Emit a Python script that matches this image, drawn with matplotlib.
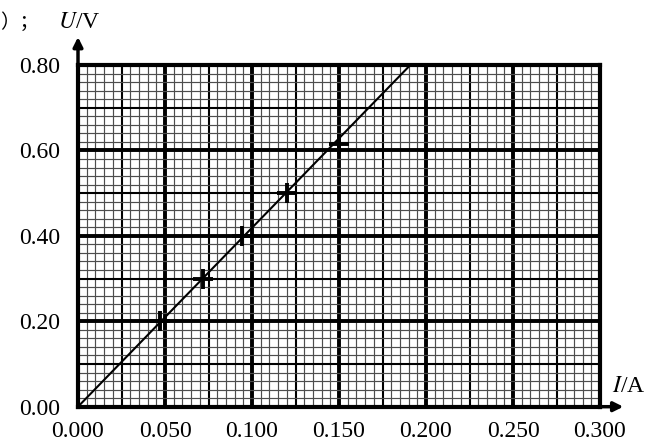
import numpy as np
import matplotlib
matplotlib.use("Agg")
import matplotlib.pyplot as plt

# 测量数据 (I/A, U/V)
current = [0.047, 0.072, 0.094, 0.120, 0.150]
voltage = [0.20, 0.30, 0.40, 0.50, 0.615]
# 拟合直线端点
fit_i = [0.0, 0.191]
fit_u = [0.0, 0.80]
x_ticks = [0.000, 0.050, 0.100, 0.150, 0.200, 0.250, 0.300]
x_labels = ["0.000", "0.050", "0.100", "0.150", "0.200", "0.250", "0.300"]
y_ticks = [0.00, 0.20, 0.40, 0.60, 0.80]
y_labels = ["0.00", "0.20", "0.40", "0.60", "0.80"]

plt.rcParams['font.family'] = ['Liberation Serif', 'DejaVu Serif']
plt.rcParams['mathtext.fontset'] = 'stix'

fig = plt.figure(figsize=(6.45, 4.41), dpi=100)
ax = fig.add_axes([78/645, 34.3/441, 522/645, 341.7/441])
ax.set_xlim(0, 0.3)
ax.set_ylim(0, 0.8)

# 坐标纸网格: 细线 / 中线 / 粗线
xs = np.round(np.arange(0, 0.3001, 0.005), 4)
ys = np.round(np.arange(0, 0.8001, 0.02), 4)
for x in xs:
    k = int(round(x / 0.005))
    if k % 10 == 0:
        lw, c = 2.8, 'black'
    elif k % 5 == 0:
        lw, c = 1.5, 'black'
    else:
        lw, c = 0.85, '#4d4d4d'
    ax.axvline(x, color=c, lw=lw, zorder=1)
for y in ys:
    k = int(round(y / 0.02))
    if k % 10 == 0:
        lw, c = 2.8, 'black'
    elif k % 5 == 0:
        lw, c = 1.5, 'black'
    else:
        lw, c = 0.85, '#4d4d4d'
    ax.axhline(y, color=c, lw=lw, zorder=1)

for s in ax.spines.values():
    s.set_linewidth(3)
    s.set_color('black')

# 拟合线和数据点
ax.plot(fit_i, fit_u, color='black', lw=1.5, zorder=3)
ax.plot(current, voltage, linestyle='none', marker='+', markersize=15,
        markeredgewidth=2.8, color='black', zorder=4)

ax.set_xticks(x_ticks)
ax.set_xticklabels(x_labels)
ax.set_yticks(y_ticks)
ax.set_yticklabels(y_labels)
ax.tick_params(length=0, labelsize=17)
ax.tick_params(axis='x', pad=10)
ax.tick_params(axis='y', pad=13)

# 坐标轴箭头
ax.annotate('', xy=(0, 1.09), xytext=(0, 0.99), xycoords='axes fraction',
            arrowprops=dict(arrowstyle='-|>', color='black', lw=2.5, mutation_scale=14),
            annotation_clip=False)
ax.annotate('', xy=(1.05, 0), xytext=(0.99, 0), xycoords='axes fraction',
            arrowprops=dict(arrowstyle='-|>', color='black', lw=2.5, mutation_scale=14),
            annotation_clip=False)

fig.text(58/645, 1 - 22/441, '$U$/V', fontsize=17, ha='left', va='center')
fig.text(612/645, 1 - 387/441, '$I$/A', fontsize=17, ha='left', va='center')
fig.text(0.0, 1 - 22/441, '）；', fontsize=14, ha='left', va='center',
         family=['Noto Sans CJK SC', 'DejaVu Sans'])

fig.savefig('out.png', dpi=100)
